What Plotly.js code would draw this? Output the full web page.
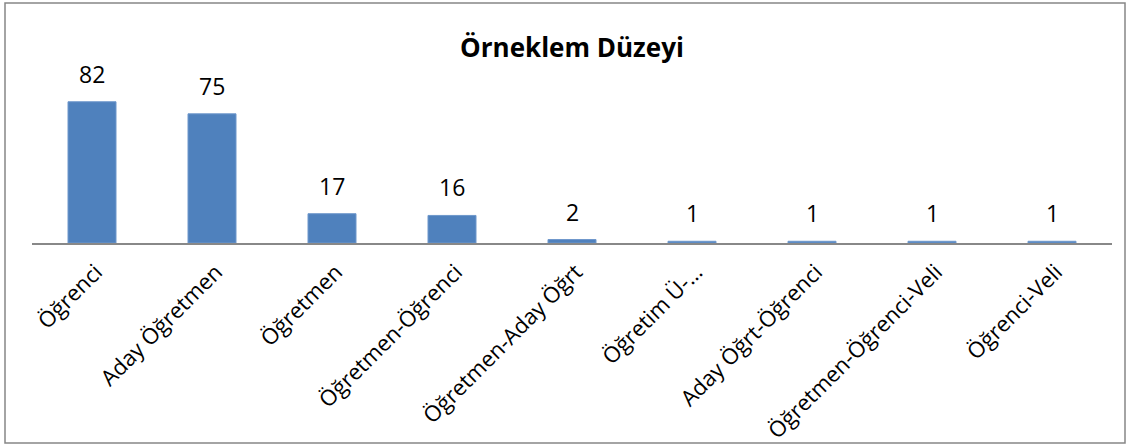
<!DOCTYPE html>
<html>
<head>
<meta charset="utf-8">
<script src="https://cdn.plot.ly/plotly-3.0.1.min.js"></script>
<style>html,body{margin:0;padding:0;background:#fff;}#chart{width:1131px;height:448px;}</style>
</head>
<body>
<div id="chart"></div>
<script>
const categories = ["Öğrenci","Aday Öğretmen","Öğretmen","Öğretmen-Öğrenci","Öğretmen-Aday Öğrt","Öğretim Ü-…","Aday Öğrt-Öğrenci","Öğretmen-Öğrenci-Veli","Öğrenci-Veli"];
const values = [82,75,17,16,2,1,1,1,1];

const fontFam = "'Open Sans', 'DejaVu Sans', sans-serif";

const trace = {
  type: "bar",
  x: categories,
  y: values,
  width: 0.4,
  marker: {color: "#4F81BD", line: {color: "#6E97CB", width: 1}},
  hoverinfo: "none"
};

const annotations = categories.map((c, i) => ({
  x: c, y: values[i], xref: "x", yref: "y",
  text: String(values[i]), showarrow: false,
  yanchor: "bottom", yshift: 10,
  font: {family: fontFam, size: 23, color: "#000"}
}));

const layout = {
  width: 1131, height: 448,
  margin: {l: 32, r: 19, t: 88, b: 205},
  paper_bgcolor: "#fff", plot_bgcolor: "#fff",
  title: {text: "<b>Örneklem Düzeyi</b>", x: 0.5, xref: "paper", y: 0.893, yanchor: "middle",
          font: {family: fontFam, size: 26, color: "#000"}},
  showlegend: false,
  bargap: 0.6,
  xaxis: {
    type: "category",
    showline: true, linecolor: "#888", linewidth: 1.5,
    ticks: "", tickangle: -45,
    tickfont: {family: fontFam, size: 22, color: "#000"},
    ticklabelshift: 4,
    ticklabelstandoff: 6,
    showgrid: false, zeroline: false
  },
  yaxis: {
    range: [0, 90], visible: false, showgrid: false, zeroline: false
  },
  annotations: annotations,
  shapes: [{
    type: "rect", xref: "paper", yref: "paper",
    x0: (5-32)/1080, x1: (1125-32)/1080,
    y0: (243-443)/155, y1: (243-3)/155,
    line: {color: "#868686", width: 1.5}, fillcolor: "rgba(0,0,0,0)"
  }]
};

Plotly.newPlot("chart", [trace], layout, {displayModeBar: false, staticPlot: true});
</script>
</body>
</html>
